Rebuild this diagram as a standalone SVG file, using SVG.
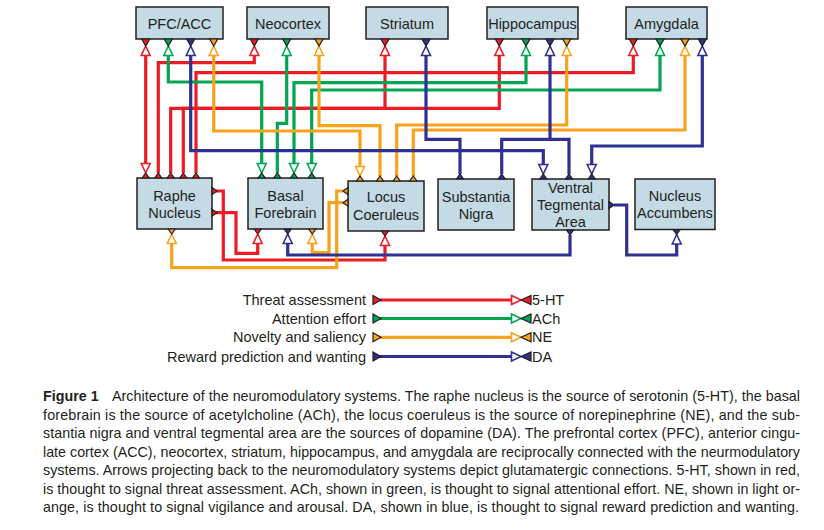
<svg xmlns="http://www.w3.org/2000/svg" xmlns:xlink="http://www.w3.org/1999/xlink" width="824" height="530" viewBox="0 0 824 530">
<style>
.box{fill:#c4dae5;stroke:#231f20;stroke-width:1.5}
.lbl{font-family:"Liberation Sans",Arial,sans-serif;font-size:14.5px;fill:#231f20;text-anchor:middle}
.leg{font-family:"Liberation Sans",Arial,sans-serif;font-size:14.5px;fill:#231f20}
.cap{font-family:"Liberation Sans",Arial,sans-serif;font-size:14.3px;fill:#231f20}
.ln{fill:none;stroke-width:3.2;stroke-linejoin:miter}
.r{stroke:#ed1c24}.g{stroke:#00a651}.o{stroke:#f9a21b}.b{stroke:#2e3192}
.oar{fill:#fff;stroke:#ed1c24;stroke-width:1.6}
.oag{fill:#fff;stroke:#00a651;stroke-width:1.6}
.oao{fill:#fff;stroke:#f9a21b;stroke-width:1.6}
.oab{fill:#fff;stroke:#2e3192;stroke-width:1.6}
.pr{fill:#ed1c24;stroke:#231f20;stroke-width:1.2}
.pg{fill:#00a651;stroke:#231f20;stroke-width:1.2}
.po{fill:#f9a21b;stroke:#231f20;stroke-width:1.2}
.pb{fill:#2e3192;stroke:#231f20;stroke-width:1.2}
</style>
<defs>
<path id="aD" d="M-4.5,-9.5 L0,0 L4.5,-9.5 Z"/>
<path id="aU" d="M-4.5,9.5 L0,0 L4.5,9.5 Z"/>
<path id="aR" d="M-9.5,-4.5 L0,0 L-9.5,4.5 Z"/>
<path id="pD" d="M-4,0 L4,0 L0,7 Z"/>
<path id="pUs" d="M-3.5,0 L3.5,0 L0,-5 Z"/>
<path id="pDs" d="M-3.5,0 L3.5,0 L0,5 Z"/>
<path id="pRs" d="M0,-3.5 L0,3.5 L5,0 Z"/>
<path id="pLs" d="M0,-3.5 L0,3.5 L-5,0 Z"/>
<path id="lgL" d="M0,-4.5 L8,0 L0,4.5 Z"/>
<path id="lgR" d="M0,0 L10,-4.5 L10,4.5 Z"/>
</defs>

<g id="connectors">
<!-- red -->
<polyline class="ln r" points="145.7,55 145.7,164"/>
<polyline class="ln r" points="158.3,173 158.3,62.7 254.3,62.7 254.3,55"/>
<polyline class="ln r" points="170.7,173 170.7,108.3 385,108.3 385,55"/>
<polyline class="ln r" points="183.3,173 183.3,108.3 499.3,108.3 499.3,55"/>
<polyline class="ln r" points="196,173 196,72.7 633.3,72.7 633.3,55"/>
<polyline class="ln r" points="216,191 223.3,191 223.3,260 385,260 385,245"/>
<polyline class="ln r" points="216,212.7 236,212.7 236,253.3 257.7,253.3 257.7,243"/>
<!-- green -->
<polyline class="ln g" points="168.3,55 168.3,82 261.7,82 261.7,164"/>
<polyline class="ln g" points="277.3,173 277.3,123.3 286.7,123.3 286.7,55"/>
<polyline class="ln g" points="294,164 294,82.7 526,82.7 526,55"/>
<polyline class="ln g" points="311.7,164 311.7,90 660,90 660,55"/>
<!-- orange -->
<polyline class="ln o" points="213.7,55 213.7,131 360,131 360,167"/>
<polyline class="ln o" points="380,176 380,125.7 319,125.7 319,55"/>
<polyline class="ln o" points="396.7,176 396.7,125 566.7,125 566.7,55"/>
<polyline class="ln o" points="413.3,176 413.3,130 685,130 685,55"/>
<polyline class="ln o" points="171.7,243 171.7,267.7 336.7,267.7 336.7,191 343.5,191"/>
<polyline class="ln o" points="312.3,243 312.3,252.7 329,252.7 329,202.7 343.5,202.7"/>
<!-- blue -->
<polyline class="ln b" points="190.7,55 190.7,150.7 543.3,150.7 543.3,165"/>
<polyline class="ln b" points="426,55 426,139.3 460,139.3 460,174"/>
<polyline class="ln b" points="550,55 550,139.3"/>
<polyline class="ln b" points="501.7,174 501.7,139.3 569,139.3 569,174"/>
<polyline class="ln b" points="702.3,55 702.3,146 591.7,146 591.7,165"/>
<polyline class="ln b" points="287.7,243 287.7,255 570,255 570,235"/>
<polyline class="ln b" points="614,205 626.7,205 626.7,255 676.7,255 676.7,244"/>

<!-- open arrowheads -->
<use href="#aU" class="oar" x="145.7" y="46"/>
<use href="#aU" class="oag" x="168.3" y="46"/>
<use href="#aU" class="oab" x="190.7" y="46"/>
<use href="#aU" class="oao" x="213.7" y="46"/>
<use href="#aU" class="oar" x="254.3" y="46"/>
<use href="#aU" class="oag" x="286.7" y="46"/>
<use href="#aU" class="oao" x="319" y="46"/>
<use href="#aU" class="oar" x="385" y="46"/>
<use href="#aU" class="oab" x="426" y="46"/>
<use href="#aU" class="oar" x="499.3" y="46"/>
<use href="#aU" class="oag" x="526" y="46"/>
<use href="#aU" class="oab" x="550" y="46"/>
<use href="#aU" class="oao" x="566.7" y="46"/>
<use href="#aU" class="oar" x="633.3" y="46"/>
<use href="#aU" class="oag" x="660" y="46"/>
<use href="#aU" class="oao" x="685" y="46"/>
<use href="#aU" class="oab" x="702.3" y="46"/>

<use href="#aD" class="oar" x="145.7" y="173"/>
<use href="#aD" class="oag" x="261.7" y="173"/>
<use href="#aD" class="oag" x="294" y="173"/>
<use href="#aD" class="oag" x="311.7" y="173"/>
<use href="#aD" class="oao" x="360" y="176"/>
<use href="#aD" class="oab" x="543.3" y="174"/>
<use href="#aD" class="oab" x="591.7" y="174"/>

<use href="#aU" class="oao" x="171.7" y="234"/>
<use href="#aU" class="oar" x="257.7" y="234"/>
<use href="#aU" class="oab" x="287.7" y="234"/>
<use href="#aU" class="oao" x="312.3" y="234"/>
<use href="#aU" class="oar" x="385" y="236"/>
<use href="#aU" class="oab" x="676.7" y="234.5"/>
</g>

<g id="pfc">
<rect class="box" x="136" y="7" width="87" height="32"/>
<text class="lbl" x="179.5" y="28.5">PFC/ACC</text>
<use href="#pD" class="pr" x="145.7" y="39"/>
<use href="#pD" class="pg" x="168.3" y="39"/>
<use href="#pD" class="pb" x="190.7" y="39"/>
<use href="#pD" class="po" x="213.7" y="39"/>
</g>
<g id="neocortex">
<rect class="box" x="247" y="7" width="82" height="32"/>
<text class="lbl" x="288" y="28.5">Neocortex</text>
<use href="#pD" class="pr" x="254.3" y="39"/>
<use href="#pD" class="pg" x="286.7" y="39"/>
<use href="#pD" class="po" x="319" y="39"/>
</g>
<g id="striatum">
<rect class="box" x="366" y="7" width="82" height="32"/>
<text class="lbl" x="407" y="28.5">Striatum</text>
<use href="#pD" class="pr" x="385" y="39"/>
<use href="#pD" class="pb" x="426" y="39"/>
</g>
<g id="hippocampus">
<rect class="box" x="487" y="7" width="91" height="32"/>
<text class="lbl" x="532.5" y="28.5">Hippocampus</text>
<use href="#pD" class="pr" x="499.3" y="39"/>
<use href="#pD" class="pg" x="526" y="39"/>
<use href="#pD" class="pb" x="550" y="39"/>
<use href="#pD" class="po" x="566.7" y="39"/>
</g>
<g id="amygdala">
<rect class="box" x="626" y="7" width="81" height="32"/>
<text class="lbl" x="666.5" y="28.5">Amygdala</text>
<use href="#pD" class="pr" x="633.3" y="39"/>
<use href="#pD" class="pg" x="660" y="39"/>
<use href="#pD" class="po" x="685" y="39"/>
<use href="#pD" class="pb" x="702.3" y="39"/>
</g>

<g id="raphe">
<rect class="box" x="137" y="178" width="75" height="51"/>
<text class="lbl" x="174.5" y="200.5">Raphe</text>
<text class="lbl" x="174.5" y="218">Nucleus</text>
<use href="#pUs" class="pr" x="145.7" y="178"/>
<use href="#pUs" class="pr" x="158.3" y="178"/>
<use href="#pUs" class="pr" x="170.7" y="178"/>
<use href="#pUs" class="pr" x="183.3" y="178"/>
<use href="#pUs" class="pr" x="196" y="178"/>
<use href="#pRs" class="pr" x="212" y="191"/>
<use href="#pRs" class="pr" x="212" y="212.7"/>
<use href="#pDs" class="po" x="171.7" y="229"/>
</g>
<g id="basal-forebrain">
<rect class="box" x="248" y="178" width="75" height="51"/>
<text class="lbl" x="285.5" y="200.5">Basal</text>
<text class="lbl" x="285.5" y="218">Forebrain</text>
<use href="#pUs" class="pg" x="261.7" y="178"/>
<use href="#pUs" class="pg" x="277.3" y="178"/>
<use href="#pUs" class="pg" x="294" y="178"/>
<use href="#pUs" class="pg" x="311.7" y="178"/>
<use href="#pDs" class="pr" x="257.7" y="229"/>
<use href="#pDs" class="pb" x="287.7" y="229"/>
<use href="#pDs" class="po" x="312.3" y="229"/>
</g>
<g id="locus-coeruleus">
<rect class="box" x="348" y="181" width="76" height="50"/>
<text class="lbl" x="386" y="202.3">Locus</text>
<text class="lbl" x="386" y="220">Coeruleus</text>
<use href="#pUs" class="po" x="360" y="181"/>
<use href="#pUs" class="po" x="380" y="181"/>
<use href="#pUs" class="po" x="396.7" y="181"/>
<use href="#pUs" class="po" x="413.3" y="181"/>
<use href="#pLs" class="po" x="348" y="191"/>
<use href="#pLs" class="po" x="348" y="202.7"/>
<use href="#pDs" class="pr" x="385" y="231"/>
</g>
<g id="substantia-nigra">
<rect class="box" x="438" y="179" width="76" height="51"/>
<text class="lbl" x="476" y="201.7">Substantia</text>
<text class="lbl" x="476" y="219">Nigra</text>
<use href="#pUs" class="pb" x="460" y="179"/>
<use href="#pUs" class="pb" x="501.7" y="179"/>
</g>
<g id="vta">
<rect class="box" x="532" y="179" width="77" height="51"/>
<text class="lbl" x="570.5" y="193.3">Ventral</text>
<text class="lbl" x="570.5" y="210">Tegmental</text>
<text class="lbl" x="570.5" y="226.7">Area</text>
<use href="#pUs" class="pb" x="543.3" y="179"/>
<use href="#pUs" class="pb" x="569" y="179"/>
<use href="#pUs" class="pb" x="591.7" y="179"/>
<use href="#pRs" class="pb" x="609" y="205"/>
<use href="#pDs" class="pb" x="570" y="230"/>
</g>
<g id="nucleus-accumbens">
<rect class="box" x="635" y="179" width="80" height="50.5"/>
<text class="lbl" x="675" y="200.7">Nucleus</text>
<text class="lbl" x="675" y="218.3">Accumbens</text>
<use href="#pDs" class="pb" x="676.7" y="229.5"/>
</g>

<g id="legend">
<text class="leg" x="366" y="305" text-anchor="end">Threat assessment</text>
<text class="leg" x="366" y="323.5" text-anchor="end">Attention effort</text>
<text class="leg" x="366" y="342.3" text-anchor="end">Novelty and saliency</text>
<text class="leg" x="366" y="361.5" text-anchor="end">Reward prediction and wanting</text>
<line class="ln r" x1="380" y1="300" x2="513" y2="300"/>
<line class="ln g" x1="380" y1="318.5" x2="513" y2="318.5"/>
<line class="ln o" x1="380" y1="337.3" x2="513" y2="337.3"/>
<line class="ln b" x1="380" y1="356.5" x2="513" y2="356.5"/>
<use href="#lgL" class="pr" x="373" y="300"/>
<use href="#lgL" class="pg" x="373" y="318.5"/>
<use href="#lgL" class="po" x="373" y="337.3"/>
<use href="#lgL" class="pb" x="373" y="356.5"/>
<use href="#aR" class="oar" x="521" y="300"/>
<use href="#aR" class="oag" x="521" y="318.5"/>
<use href="#aR" class="oao" x="521" y="337.3"/>
<use href="#aR" class="oab" x="521" y="356.5"/>
<use href="#lgR" class="pr" x="521" y="300"/>
<use href="#lgR" class="pg" x="521" y="318.5"/>
<use href="#lgR" class="po" x="521" y="337.3"/>
<use href="#lgR" class="pb" x="521" y="356.5"/>
<text class="leg" x="532" y="305">5-HT</text>
<text class="leg" x="532" y="323.5">ACh</text>
<text class="leg" x="532" y="342.3">NE</text>
<text class="leg" x="532" y="361.5">DA</text>
</g>

<g id="caption">
<text class="cap" x="43" y="401" font-weight="bold">Figure 1</text>
<text class="cap" x="112" y="401" textLength="688" lengthAdjust="spacing">Architecture of the neuromodulatory systems. The raphe nucleus is the source of serotonin (5-HT), the basal</text>
<text class="cap" x="43" y="419.5" textLength="757" lengthAdjust="spacing">forebrain is the source of acetylcholine (ACh), the locus coeruleus is the source of norepinephrine (NE), and the sub-</text>
<text class="cap" x="43" y="438" textLength="757" lengthAdjust="spacing">stantia nigra and ventral tegmental area are the sources of dopamine (DA). The prefrontal cortex (PFC), anterior cingu-</text>
<text class="cap" x="43" y="456.5" textLength="757" lengthAdjust="spacing">late cortex (ACC), neocortex, striatum, hippocampus, and amygdala are reciprocally connected with the neurmodulatory</text>
<text class="cap" x="43" y="475" textLength="757" lengthAdjust="spacing">systems. Arrows projecting back to the neuromodulatory systems depict glutamatergic connections. 5-HT, shown in red,</text>
<text class="cap" x="43" y="493.5" textLength="757" lengthAdjust="spacing">is thought to signal threat assessment. ACh, shown in green, is thought to signal attentional effort. NE, shown in light or-</text>
<text class="cap" x="43" y="512" textLength="756" lengthAdjust="spacing">ange, is thought to signal vigilance and arousal. DA, shown in blue, is thought to signal reward prediction and wanting.</text>
</g>
</svg>
